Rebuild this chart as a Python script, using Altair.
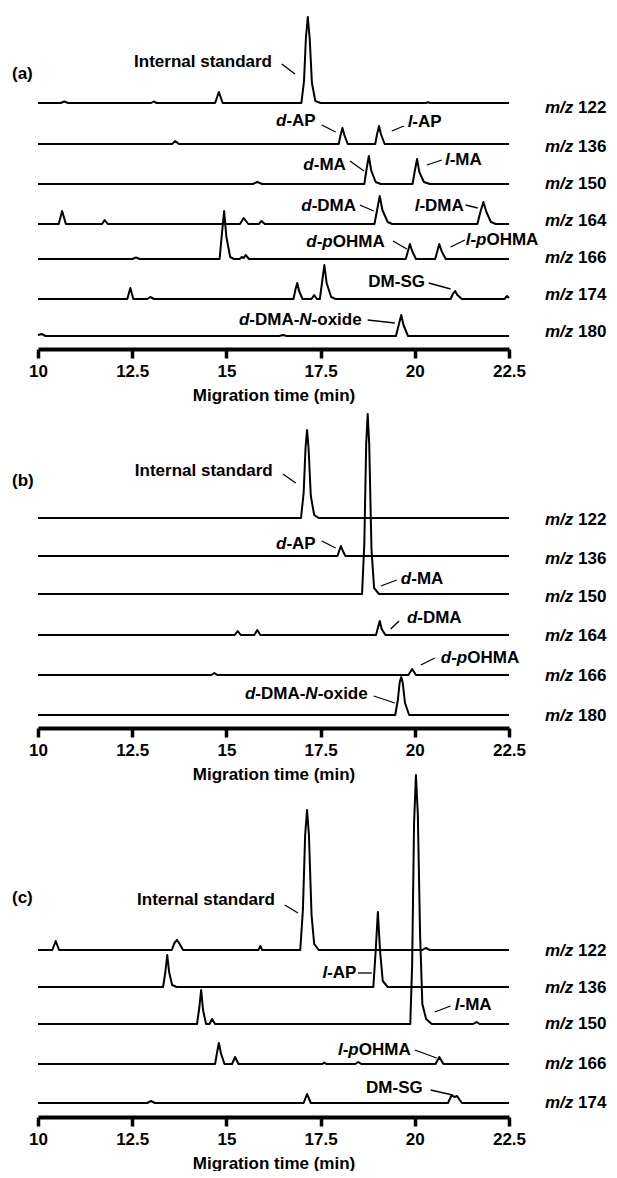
import altair as alt
import pandas as pd

FONT = "Liberation Sans"
FS = 17

# ---------------- panel (a): traces (time min, signal a.u.) ----------------
a122_t = [10.0, 10.6, 10.7, 10.8, 13.0, 13.07, 13.15, 14.7, 14.8, 14.9, 16.99, 17.06, 17.11, 17.16, 17.21, 17.27, 17.36, 17.5, 20.3, 20.35, 20.4, 22.5]
a122_v = [0, 0, 1.5, 0, 0, 1.5, 0, 0, 11, 0, 0, 22, 65, 86, 65, 20, 2, 0, 0, 0.8, 0, 0]
a136_t = [10, 13.56, 13.64, 13.74, 17.98, 18.03, 18.08, 18.13, 18.22, 18.95, 19.0, 19.05, 19.1, 19.2, 22.5]
a136_v = [0, 0, 3, 0, 0, 9, 16, 9, 0, 0, 10, 18, 10, 0, 0]
a150_t = [10, 15.7, 15.82, 15.95, 18.66, 18.72, 18.78, 18.84, 18.96, 19.1, 19.94, 20.0, 20.06, 20.12, 20.24, 20.4, 22.5]
a150_v = [0, 0, 2, 0, 0, 15, 28, 14, 2, 0, 0, 13, 25, 12, 2, 0, 0]
a164_t = [10, 10.55, 10.64, 10.74, 11.7, 11.77, 11.85, 15.36, 15.46, 15.58, 15.86, 15.93, 16.02, 18.93, 19.0, 19.07, 19.14, 19.28, 19.4, 21.66, 21.74, 21.82, 21.9, 22.02, 22.15, 22.5]
a164_v = [0, 0, 13, 0, 0, 4, 0, 0, 6, 0, 0, 3, 0, 0, 14, 28, 14, 2, 0, 0, 12, 22, 12, 2, 0, 0]
a166_t = [10, 12.5, 12.6, 12.7, 14.82, 14.88, 14.94, 15.0, 15.1, 15.2, 15.35, 15.41, 15.46, 15.51, 15.6, 19.76, 19.82, 19.87, 19.93, 20.03, 20.54, 20.6, 20.65, 20.71, 20.82, 22.5]
a166_v = [0, 0, 1.5, 0, 0, 25, 48, 22, 2, 0, 0, 2, 1, 4, 0, 0, 8, 15, 8, 0, 0, 8, 15, 8, 0, 0]
a174_t = [10, 12.37, 12.45, 12.53, 12.9, 12.98, 13.08, 16.78, 16.83, 16.88, 16.93, 17.02, 17.26, 17.33, 17.4, 17.48, 17.54, 17.6, 17.66, 17.78, 17.9, 20.95, 21.01, 21.07, 21.13, 21.25, 22.38, 22.45, 22.5]
a174_v = [0, 0, 11, 0, 0, 2, 0, 0, 9, 16, 8, 0, 0, 4, 0, 0, 17, 34, 16, 2, 0, 0, 5, 8, 4, 0, 0, 3, 1]
a180_t = [10, 10.1, 10.2, 16.4, 16.5, 16.6, 19.5, 19.58, 19.64, 19.7, 19.82, 22.5]
a180_v = [1, 2, 0, 0, 1, 0, 0, 12, 21, 11, 0, 0]

a_mz = ["122", "136", "150", "164", "166", "174", "180"]
a_labels = ["Internal standard", "*d*-AP", "*l*-AP", "*d*-MA", "*l*-MA", "*d*-DMA", "*l*-DMA",
            "*d*-*p*OHMA", "*l*-*p*OHMA", "DM-SG", "*d*-DMA-*N*-oxide"]
a_lab_t = [16.21, 17.37, 19.81, 18.17, 20.8, 18.44, 21.3, 19.2, 21.35, 20.27, 18.59]
a_lab_y = [287, 228, 227, 184, 189, 143, 143, 107, 109, 67, 29]
a_lab_al = ["right", "right", "left", "right", "left", "right", "right", "right", "left", "right", "right"]
a_lead_t1 = [16.47, 17.53, 19.39, 18.28, 20.32, 18.54, 21.35, 19.42, 20.95, 20.37, 18.75]
a_lead_y1 = [285, 224, 218, 188, 184, 144, 144, 108, 102, 66, 29]
a_lead_t2 = [16.82, 17.9, 19.71, 18.65, 20.72, 18.91, 21.67, 19.79, 21.33, 20.95, 19.47]
a_lead_y2 = [275, 217, 223, 178, 189, 138, 141, 100, 109, 60, 26]

# ---------------- panel (b) ----------------
b122_t = [10, 16.98, 17.05, 17.1, 17.14, 17.18, 17.24, 17.33, 17.45, 22.5]
b122_v = [0, 0, 25, 70, 88, 70, 22, 3, 0, 0]
b136_t = [10, 17.95, 18.0, 18.04, 18.09, 18.16, 22.5]
b136_v = [0, 0, 6, 10, 5, 0, 0]
b150_t = [10, 18.6, 18.66, 18.71, 18.75, 18.79, 18.85, 18.92, 19.05, 22.5]
b150_v = [0, 0, 50, 150, 180, 150, 45, 6, 0, 0]
b164_t = [10, 15.22, 15.3, 15.38, 15.74, 15.82, 15.9, 18.97, 19.02, 19.07, 19.12, 19.22, 22.5]
b164_v = [0, 0, 4, 0, 0, 5, 0, 0, 7, 14, 6, 0, 0]
b166_t = [10, 14.6, 14.68, 14.76, 19.83, 19.93, 20.03, 22.5]
b166_v = [0, 0, 2, 0, 0, 6, 0, 0]
b180_t = [10, 19.48, 19.55, 19.6, 19.64, 19.68, 19.74, 19.85, 22.5]
b180_v = [0, 0, 15, 33, 38, 32, 12, 0, 0]

b_mz = ["122", "136", "150", "164", "166", "180"]
b_labels = ["Internal standard", "*d*-AP", "*d*-MA", "*d*-DMA", "*d*-*p*OHMA", "*d*-DMA-*N*-oxide"]
b_lab_t = [16.23, 17.37, 19.63, 19.79, 20.69, 18.75]
b_lab_y = [257, 184, 149, 110, 70, 34]
b_lab_al = ["right", "right", "left", "left", "left", "right"]
b_lead_t1 = [16.5, 17.53, 19.1, 19.36, 20.16, 18.91]
b_lead_y1 = [254, 187, 142, 99, 63, 32]
b_lead_t2 = [16.84, 17.9, 19.52, 19.58, 20.53, 19.47]
b_lead_y2 = [245, 180, 148, 107, 70, 25]

# ---------------- panel (c) ----------------
c122_t = [10, 10.38, 10.47, 10.56, 13.55, 13.62, 13.69, 13.76, 13.85, 15.85, 15.9, 15.95, 16.96, 17.03, 17.09, 17.14, 17.19, 17.26, 17.33, 17.45, 20.2, 20.29, 20.4, 22.5]
c122_v = [0, 0, 9, 0, 0, 7, 10, 6, 0, 0, 4, 0, 0, 40, 115, 140, 115, 35, 6, 0, 0, 2, 0, 0]
c136_t = [10, 13.32, 13.38, 13.43, 13.48, 13.56, 13.68, 18.9, 18.96, 19.02, 19.08, 19.15, 19.28, 22.5]
c136_v = [0, 0, 15, 32, 15, 2, 0, 0, 35, 75, 35, 6, 0, 0]
c150_t = [10, 14.22, 14.28, 14.33, 14.38, 14.46, 14.55, 14.62, 14.7, 19.88, 19.93, 19.98, 20.03, 20.08, 20.14, 20.2, 20.3, 20.45, 21.55, 21.64, 21.72, 22.5]
c150_v = [0, 0, 16, 34, 14, 0, 0, 5, 0, 0, 60, 200, 249, 210, 90, 20, 5, 0, 0, 2, 0, 0]
c166_t = [10, 14.7, 14.75, 14.8, 14.86, 14.95, 15.15, 15.23, 15.32, 17.55, 17.6, 17.65, 18.42, 18.5, 18.58, 20.55, 20.65, 20.76, 22.5]
c166_v = [0, 0, 11, 21, 10, 0, 0, 7, 0, 0, 1.5, 0, 0, 2, 0, 0, 7, 0, 0]
c174_t = [10, 12.9, 13.0, 13.1, 17.05, 17.14, 17.24, 20.88, 20.98, 21.05, 21.12, 21.25, 22.5]
c174_v = [0, 0, 2, 0, 0, 9, 0, 0, 8, 6, 7, 0, 0]

c_mz = ["122", "136", "150", "166", "174"]
c_labels = ["Internal standard", "*l*-AP", "*l*-MA", "*l*-*p*OHMA", "DM-SG"]
c_lab_t = [16.29, 18.45, 21.06, 19.89, 20.21]
c_lab_y = [217, 144, 112, 67, 29]
c_lab_al = ["right", "right", "left", "right", "right"]
c_lead_t1 = [16.55, 18.49, 20.53, 20.0, 20.42]
c_lead_y1 = [212, 144, 105, 67, 27]
c_lead_t2 = [16.9, 18.86, 20.95, 20.58, 21.0]
c_lead_y2 = [204, 144, 111, 59, 22]

tick_values = [10, 12.5, 15, 17.5, 20, 22.5]
x_title = "Migration time (min)"

# ---------------- layout (pixels) ----------------
a_off = [246, 205, 165, 125, 90, 50, 13]
b_off = [210, 172, 134, 93, 53, 13]
c_off = [167, 130, 93, 53, 14]
a_mz_y = [241, 202, 165, 128, 91, 54, 17]
b_mz_y = [208, 169, 131, 92, 52, 12]
c_mz_y = [166, 129, 93, 53, 14]
PLOT_W = 471
H_A, H_B, H_C = 330, 313, 323
SPACING = 66
MZ_X = 507
TAG_X = -26

XS = alt.Scale(domain=[10, 22.5], nice=False, zero=False)
AX = alt.Axis(values=tick_values, format=".1~f", labelFlush=False, grid=False,
              domainWidth=4, domainColor="black", tickWidth=3.5, tickSize=9,
              tickColor="black", labelFontSize=FS, labelFontWeight="bold",
              labelFont=FONT, labelColor="black", labelPadding=5,
              titleFontSize=FS, titleFontWeight="bold", titleFont=FONT,
              titleColor="black", titlePadding=8)


def XE(field):
    return alt.X(field, scale=XS, axis=AX, title=x_title)


# Liberation Sans Bold advance widths (per 1000 em) for placing mixed-style runs
WID = {' ': 278, '(': 333, ')': 333, '-': 333, '.': 278, '/': 278, 'A': 722, 'D': 722,
       'G': 778, 'H': 722, 'I': 278, 'M': 833, 'N': 722, 'O': 778, 'P': 667, 'S': 667,
       'a': 556, 'd': 611, 'e': 556, 'i': 278, 'l': 278, 'm': 889, 'n': 611, 'o': 611,
       'p': 611, 'r': 389, 's': 556, 't': 333, 'x': 556, 'z': 500}


def tw(s):
    return sum(WID.get(c, 556) for c in s) * FS / 1000.0


def segs(s):
    parts = s.split("*")
    return [(p, i % 2 == 1) for i, p in enumerate(parts) if p]


def text_layers(label, t, y, align, ys, xval=None):
    sg = segs(label)
    total = sum(tw(p) for p, _ in sg)
    cum = -total if align == "right" else 0.0
    out = []
    for p, it in sg:
        lead = len(p) - len(p.lstrip(" "))
        df = pd.DataFrame({"t": [t if t is not None else 0], "y": [y], "s": [p.strip(" ")]})
        xenc = alt.value(xval) if xval is not None else XE("t:Q")
        ch = alt.Chart(df).mark_text(
            align="left", baseline="middle", dx=cum + tw(" " * lead), font=FONT,
            fontSize=FS, fontWeight="bold", fontStyle="italic" if it else "normal",
            color="black").encode(x=xenc, y=alt.Y("y:Q", scale=ys, axis=None), text="s:N")
        out.append(ch)
        cum += tw(p)
    return out


def panel(tr_t, tr_v, offs, mz, mz_y, labels, lt, ly, lal, l_t1, l_y1, l_t2, l_y2, tag, tag_y, H):
    ys = alt.Scale(domain=[0, H], nice=False, zero=False)
    rows = []
    for k, (tt, vv) in enumerate(zip(tr_t, tr_v)):
        for a, b in zip(tt, vv):
            rows.append({"t": a, "y": offs[k] + b, "tr": k})
    df = pd.DataFrame(rows)
    line = alt.Chart(df).mark_line(color="black", strokeWidth=2, strokeJoin="round").encode(
        x=XE("t:Q"),
        y=alt.Y("y:Q", scale=ys, axis=None),
        detail="tr:N")
    leads = pd.DataFrame({"t": l_t1, "y1": l_y1, "t2": l_t2, "y2": l_y2})
    rule = alt.Chart(leads).mark_rule(color="black", strokeWidth=1.3).encode(
        x=XE("t:Q"), x2="t2:Q",
        y=alt.Y("y1:Q", scale=ys, axis=None), y2="y2:Q")
    layers = [line, rule]
    for lab, t, y, al in zip(labels, lt, ly, lal):
        layers += text_layers(lab, t, y, al, ys)
    for m, yy in zip(mz, mz_y):
        layers += text_layers("*m/z* " + m, None, yy, "left", ys, xval=MZ_X)
    layers += text_layers(tag, None, tag_y, "left", ys, xval=TAG_X)
    return alt.layer(*layers).properties(width=PLOT_W, height=H)


pa = panel([a122_t, a136_t, a150_t, a164_t, a166_t, a174_t, a180_t],
           [a122_v, a136_v, a150_v, a164_v, a166_v, a174_v, a180_v],
           a_off, a_mz, a_mz_y, a_labels, a_lab_t, a_lab_y, a_lab_al,
           a_lead_t1, a_lead_y1, a_lead_t2, a_lead_y2, "(a)", 275, H_A)
pb = panel([b122_t, b136_t, b150_t, b164_t, b166_t, b180_t],
           [b122_v, b136_v, b150_v, b164_v, b166_v, b180_v],
           b_off, b_mz, b_mz_y, b_labels, b_lab_t, b_lab_y, b_lab_al,
           b_lead_t1, b_lead_y1, b_lead_t2, b_lead_y2, "(b)", 247, H_B)
pc = panel([c122_t, c136_t, c150_t, c166_t, c174_t],
           [c122_v, c136_v, c150_v, c166_v, c174_v],
           c_off, c_mz, c_mz_y, c_labels, c_lab_t, c_lab_y, c_lab_al,
           c_lead_t1, c_lead_y1, c_lead_t2, c_lead_y2, "(c)", 219, H_C)

chart = alt.vconcat(pa, pb, pc, spacing=SPACING, bounds="flush").properties(
    padding={"left": 4, "top": 7, "right": 2, "bottom": 0}
).configure(font=FONT).configure_view(stroke=None)

chart.save("out.html", embed_options={"renderer": "svg", "actions": False})
